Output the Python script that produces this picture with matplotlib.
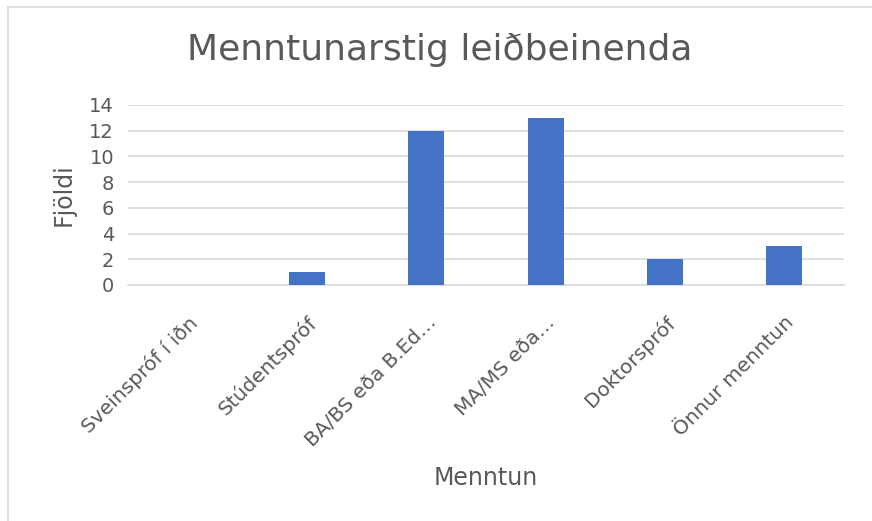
import matplotlib
matplotlib.use("Agg")
import matplotlib.pyplot as plt
from matplotlib.lines import Line2D

categories = ["Sveinspróf í iðn", "Stúdentspróf", "BA/BS eða B.Ed…",
              "MA/MS eða…", "Doktorspróf", "Önnur menntun"]
counts = [0, 1, 12, 13, 2, 3]
y_ticks = [0, 2, 4, 6, 8, 10, 12, 14]

text_col = "#595959"
grid_col = "#D9D9D9"
bar_col = "#4472C4"

plt.rcParams["font.family"] = ["DejaVu Sans"]

fig = plt.figure(figsize=(8.72, 5.21), dpi=100)
ax = fig.add_axes([128 / 872, 1 - 285 / 521, (844 - 128) / 872, (285 - 105) / 521])

x = list(range(len(categories)))
ax.bar(x, counts, width=0.30, color=bar_col, zorder=3)

ax.set_xlim(-0.5, len(categories) - 0.5)
ax.set_ylim(0, 14)
ax.set_yticks(y_ticks)
ax.set_yticklabels([str(t) for t in y_ticks], fontsize=14, color=text_col)
ax.set_xticks(x)
ax.set_xticklabels(categories, rotation=45, ha="right", rotation_mode="anchor",
                   fontsize=14.5, color=text_col)
ax.tick_params(axis="both", length=0)
ax.tick_params(axis="y", pad=10)
ax.tick_params(axis="x", pad=20)

ax.grid(axis="y", color=grid_col, linewidth=1.2, zorder=0)
for s in ["top", "right", "left"]:
    ax.spines[s].set_visible(False)
ax.spines["bottom"].set_color(grid_col)
ax.spines["bottom"].set_linewidth(1.2)

ax.set_ylabel("Fjöldi", fontsize=17, color=text_col)
ax.yaxis.set_label_coords((76 - 128) / 716, 0.5)
ax.set_xlabel("Menntun", fontsize=17, color=text_col)
ax.xaxis.set_label_coords(0.5, -(478 - 285) / 180)
ax.xaxis.label.set_va("center")

fig.text(440 / 872, 1 - 50 / 521, "Menntunarstig leiðbeinenda", ha="center",
         va="center", fontsize=26, color=text_col)

# chart frame (top and left edges visible)
fig.add_artist(Line2D([8 / 872, 1], [1 - 7 / 521, 1 - 7 / 521], color=grid_col,
                      linewidth=1.2, transform=fig.transFigure))
fig.add_artist(Line2D([8 / 872, 8 / 872], [0, 1 - 7 / 521], color=grid_col,
                      linewidth=1.2, transform=fig.transFigure))

fig.savefig("out.png", dpi=100, facecolor="white")
